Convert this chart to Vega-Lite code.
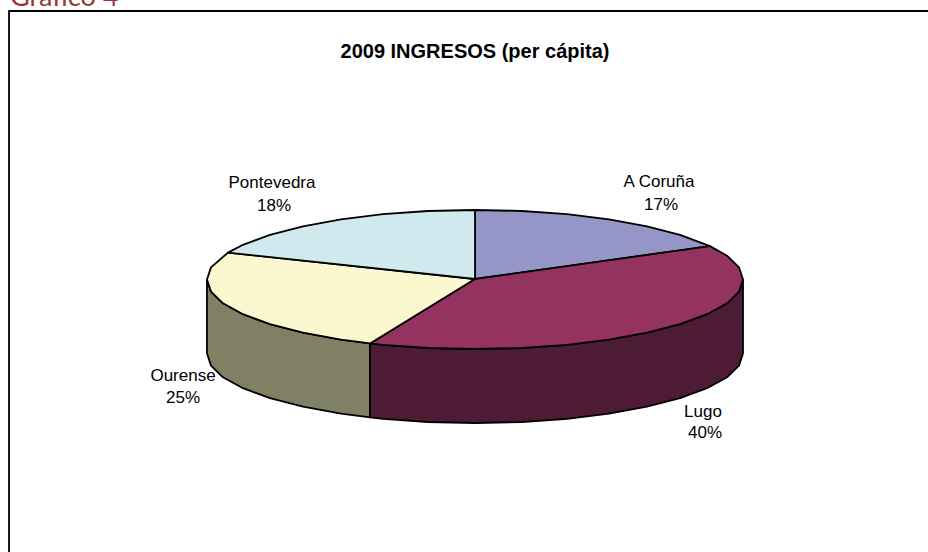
{
"$schema":"https://vega.github.io/schema/vega-lite/v6.json",
"width":928,"height":552,"padding":0,
"autosize":{"type":"none"},
"background":"white",
"view":{"stroke":null},
"datasets":{
"shapes":[
{"s":"Frame","o":1,"x":9,"y":560},{"s":"Frame","o":2,"x":9,"y":11},{"s":"Frame","o":3,"x":940,"y":11},
{"s":"Ourense lado","o":1,"x":207,"y":279.5},{"s":"Ourense lado","o":2,"x":211,"y":291.6},{"s":"Ourense lado","o":3,"x":223,"y":303.3},{"s":"Ourense lado","o":4,"x":243,"y":314.2},{"s":"Ourense lado","o":5,"x":270,"y":324.2},{"s":"Ourense lado","o":6,"x":303,"y":332.7},{"s":"Ourense lado","o":7,"x":341,"y":339.7},{"s":"Ourense lado","o":8,"x":370,"y":343.4},{"s":"Ourense lado","o":9,"x":370,"y":417.4},{"s":"Ourense lado","o":10,"x":341,"y":413.7},{"s":"Ourense lado","o":11,"x":303,"y":406.7},{"s":"Ourense lado","o":12,"x":270,"y":398.2},{"s":"Ourense lado","o":13,"x":243,"y":388.2},{"s":"Ourense lado","o":14,"x":223,"y":377.3},{"s":"Ourense lado","o":15,"x":211,"y":365.6},{"s":"Ourense lado","o":16,"x":207,"y":353.5},{"s":"Ourense lado","o":17,"x":207,"y":279.5},
{"s":"Lugo lado","o":1,"x":370,"y":343.4},{"s":"Lugo lado","o":2,"x":383,"y":344.8},{"s":"Lugo lado","o":3,"x":428,"y":348},{"s":"Lugo lado","o":4,"x":475,"y":349},{"s":"Lugo lado","o":5,"x":522,"y":348},{"s":"Lugo lado","o":6,"x":567,"y":344.8},{"s":"Lugo lado","o":7,"x":609,"y":339.7},{"s":"Lugo lado","o":8,"x":647,"y":332.7},{"s":"Lugo lado","o":9,"x":680,"y":324.2},{"s":"Lugo lado","o":10,"x":707,"y":314.2},{"s":"Lugo lado","o":11,"x":727,"y":303.3},{"s":"Lugo lado","o":12,"x":739,"y":291.6},{"s":"Lugo lado","o":13,"x":743,"y":279.5},{"s":"Lugo lado","o":14,"x":743,"y":353.5},{"s":"Lugo lado","o":15,"x":739,"y":365.6},{"s":"Lugo lado","o":16,"x":727,"y":377.3},{"s":"Lugo lado","o":17,"x":707,"y":388.2},{"s":"Lugo lado","o":18,"x":680,"y":398.2},{"s":"Lugo lado","o":19,"x":647,"y":406.7},{"s":"Lugo lado","o":20,"x":609,"y":413.7},{"s":"Lugo lado","o":21,"x":567,"y":418.8},{"s":"Lugo lado","o":22,"x":522,"y":422},{"s":"Lugo lado","o":23,"x":475,"y":423},{"s":"Lugo lado","o":24,"x":428,"y":422},{"s":"Lugo lado","o":25,"x":383,"y":418.8},{"s":"Lugo lado","o":26,"x":370,"y":417.4},{"s":"Lugo lado","o":27,"x":370,"y":343.4},
{"s":"A Coruña","o":1,"x":475,"y":279},{"s":"A Coruña","o":2,"x":475,"y":210},{"s":"A Coruña","o":3,"x":522,"y":211},{"s":"A Coruña","o":4,"x":567,"y":214.2},{"s":"A Coruña","o":5,"x":609,"y":219.3},{"s":"A Coruña","o":6,"x":647,"y":226.3},{"s":"A Coruña","o":7,"x":680,"y":234.8},{"s":"A Coruña","o":8,"x":710,"y":246.1},{"s":"A Coruña","o":9,"x":475,"y":279},
{"s":"Lugo","o":1,"x":475,"y":279},{"s":"Lugo","o":2,"x":710,"y":246.1},{"s":"Lugo","o":3,"x":727,"y":255.7},{"s":"Lugo","o":4,"x":739,"y":267.4},{"s":"Lugo","o":5,"x":743,"y":279.5},{"s":"Lugo","o":6,"x":739,"y":291.6},{"s":"Lugo","o":7,"x":727,"y":303.3},{"s":"Lugo","o":8,"x":707,"y":314.2},{"s":"Lugo","o":9,"x":680,"y":324.2},{"s":"Lugo","o":10,"x":647,"y":332.7},{"s":"Lugo","o":11,"x":609,"y":339.7},{"s":"Lugo","o":12,"x":567,"y":344.8},{"s":"Lugo","o":13,"x":522,"y":348},{"s":"Lugo","o":14,"x":475,"y":349},{"s":"Lugo","o":15,"x":428,"y":348},{"s":"Lugo","o":16,"x":383,"y":344.8},{"s":"Lugo","o":17,"x":370,"y":343.4},{"s":"Lugo","o":18,"x":475,"y":279},
{"s":"Ourense","o":1,"x":475,"y":279},{"s":"Ourense","o":2,"x":370,"y":343.4},{"s":"Ourense","o":3,"x":341,"y":339.7},{"s":"Ourense","o":4,"x":303,"y":332.7},{"s":"Ourense","o":5,"x":270,"y":324.2},{"s":"Ourense","o":6,"x":243,"y":314.2},{"s":"Ourense","o":7,"x":223,"y":303.3},{"s":"Ourense","o":8,"x":211,"y":291.6},{"s":"Ourense","o":9,"x":207,"y":279.5},{"s":"Ourense","o":10,"x":211,"y":267.4},{"s":"Ourense","o":11,"x":228,"y":252.6},{"s":"Ourense","o":12,"x":475,"y":279},
{"s":"Pontevedra","o":1,"x":475,"y":279},{"s":"Pontevedra","o":2,"x":228,"y":252.6},{"s":"Pontevedra","o":3,"x":243,"y":244.8},{"s":"Pontevedra","o":4,"x":270,"y":234.8},{"s":"Pontevedra","o":5,"x":303,"y":226.3},{"s":"Pontevedra","o":6,"x":341,"y":219.3},{"s":"Pontevedra","o":7,"x":383,"y":214.2},{"s":"Pontevedra","o":8,"x":428,"y":211},{"s":"Pontevedra","o":9,"x":475,"y":210},{"s":"Pontevedra","o":10,"x":475,"y":279}
],
"labels":[
{"t":"Pontevedra","x":272,"y":188},{"t":"18%","x":274,"y":211},
{"t":"A Coruña","x":659,"y":187},{"t":"17%","x":661,"y":210},
{"t":"Ourense","x":183,"y":381},{"t":"25%","x":183,"y":403},
{"t":"Lugo","x":703,"y":417},{"t":"40%","x":705,"y":438}
],
"title":[{"t":"2009 INGRESOS (per cápita)","x":475,"y":58}],
"header":[{"t":"Gráfico 4","x":10,"y":6}]
},
"encoding":{
"x":{"field":"x","type":"quantitative","scale":{"domain":[0,928],"nice":false,"zero":false},"axis":null},
"y":{"field":"y","type":"quantitative","scale":{"domain":[552,0],"nice":false,"zero":false},"axis":null}
},
"layer":[
{"data":{"name":"shapes"},
 "mark":{"type":"line","stroke":"black","strokeWidth":1.8,"strokeJoin":"round","clip":true},
 "encoding":{
  "order":{"field":"o","type":"quantitative"},
  "detail":{"field":"s"},
  "fill":{"field":"s","type":"nominal","legend":null,"scale":{
    "domain":["Frame","Ourense lado","Lugo lado","A Coruña","Lugo","Ourense","Pontevedra"],
    "range":["transparent","#808064","#4d1c34","#9595c8","#953360","#fbf7cf","#cfe9ef"]}}
 }},
{"data":{"name":"labels"},
 "mark":{"type":"text","font":"Liberation Sans","fontSize":17,"color":"#000000","align":"center","baseline":"alphabetic"},
 "encoding":{"text":{"field":"t"}}},
{"data":{"name":"title"},
 "mark":{"type":"text","font":"Liberation Sans","fontSize":20,"fontWeight":"bold","color":"#000000","align":"center","baseline":"alphabetic"},
 "encoding":{"text":{"field":"t"}}},
{"data":{"name":"header"},
 "mark":{"type":"text","font":"Lato","fontSize":27,"color":"#953735","align":"left","baseline":"alphabetic"},
 "encoding":{"text":{"field":"t"}}}
]
}
